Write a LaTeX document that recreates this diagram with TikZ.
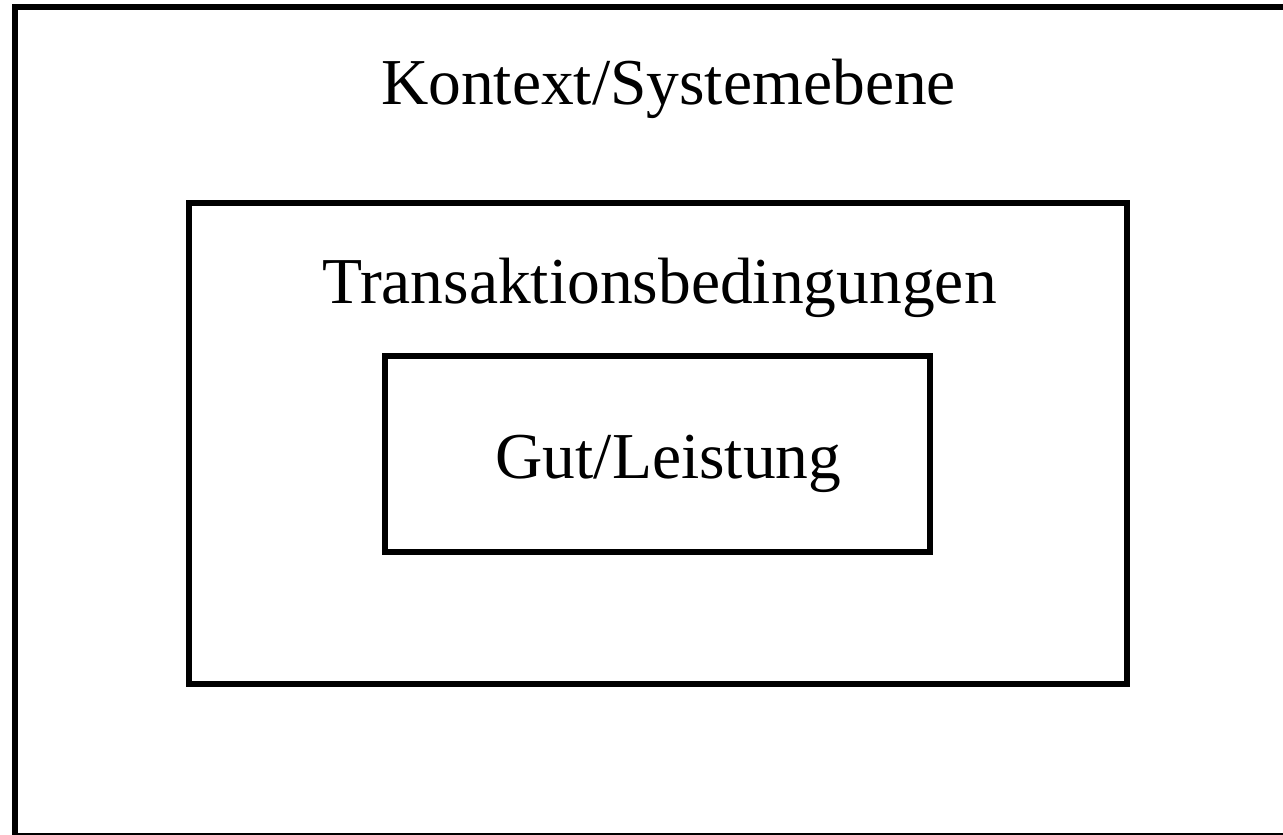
\documentclass[tikz,border=0pt]{standalone}
\usepackage{fontspec}
\setmainfont{Liberation Serif}
\begin{document}
\begin{tikzpicture}[x=1pt,y=-1pt,
  frame/.style={draw=black,line width=6pt,rectangle,inner sep=0pt,outer sep=0pt},
  label/.style={anchor=base,inner sep=0pt,font=\fontsize{65.5}{72}\selectfont}]
\useasboundingbox (0,0) rectangle (1283,835);
\node[frame,minimum width=1274pt,minimum height=829pt] (outer) at (652,421.5) {};
\node[frame,minimum width=938pt,minimum height=481pt] (mid) at (658,443.5) {};
\node[frame,minimum width=545pt,minimum height=196pt] (inner) at (657.5,454) {};
\node[label] (t1) at (668.5,104) {Kontext/Systemebene};
\node[label] (t2) at (659.5,303) {Transaktionsbedingungen};
\node[label] (t3) at (668.5,478) {Gut/Leistung};
\end{tikzpicture}
\end{document}
